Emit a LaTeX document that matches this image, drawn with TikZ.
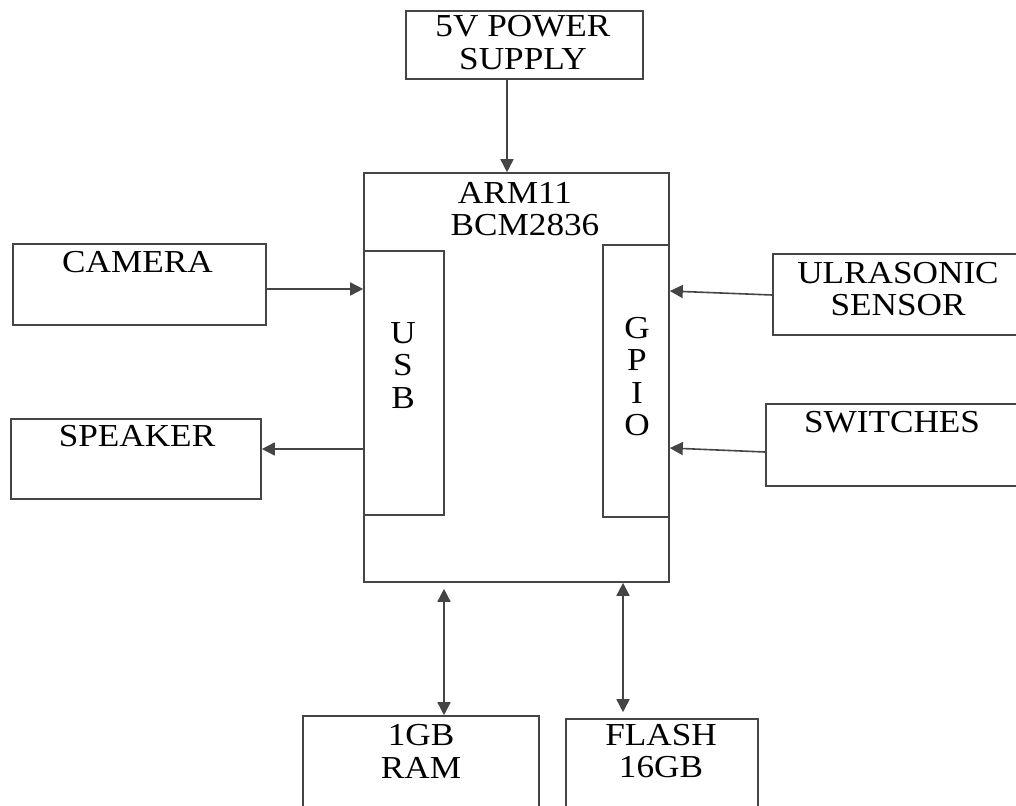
\documentclass[tikz,border=0pt]{standalone}
\usepackage{fontspec}
\setmainfont{Liberation Serif}[FakeStretch=1.1]
\usetikzlibrary{arrows.meta}
\definecolor{ln}{HTML}{454545}
\begin{document}
\begin{tikzpicture}[x=1pt,y=-1pt,
  box/.style={draw=ln,line width=1.6pt,inner sep=0pt,rectangle},
  txt/.style={inner sep=0pt,align=center,font=\fontsize{32}{32.5}\selectfont,text=black},
  arr/.style={draw=ln,line width=1.6pt,-{Triangle[length=13pt,width=13pt]}},
  darr/.style={draw=ln,line width=1.6pt,{Triangle[length=13pt,width=13pt]}-{Triangle[length=13pt,width=13pt]}}]
\useasboundingbox (0,0) rectangle (1016,805);
% boxes
\node[box,minimum width=237pt,minimum height=68pt] (ps) at (524.5,45) {};
\node[box,minimum width=305pt,minimum height=409pt] (main) at (516.5,377.5) {};
\node[box,minimum width=80pt,minimum height=264pt] (usb) at (404,383) {};
\node[box,minimum width=66pt,minimum height=272pt] (gpio) at (636,381) {};
\node[box,minimum width=253pt,minimum height=81pt] (cam) at (139.5,284.5) {};
\node[box,minimum width=250pt,minimum height=80pt] (spk) at (136,459) {};
\node[box,minimum width=260pt,minimum height=81pt] (ultra) at (903,294.5) {};
\node[box,minimum width=264pt,minimum height=82pt] (sw) at (898,445) {};
\node[box,minimum width=236pt,minimum height=110pt] (ram) at (421,771) {};
\node[box,minimum width=192pt,minimum height=110pt] (flash) at (662,774) {};
% texts
\node[txt] (tps) at (523,42.5) {5V POWER\\SUPPLY};
\node[txt] (tarm) at (515,193) {ARM11};
\node[txt] (tbcm) at (525,225) {BCM2836};
\node[txt] (tusb) at (403,365.5) {U\\S\\B};
\node[txt] (tgpio) at (637,376.5) {G\\P\\I\\O};
\node[txt] (tcam) at (137.5,262) {CAMERA};
\node[txt] (tspk) at (137,436) {SPEAKER};
\node[txt] (tultra) at (898,289) {ULRASONIC\\SENSOR};
\node[txt] (tsw) at (892,422) {SWITCHES};
\node[txt] (tram) at (421,751.5) {1GB\\RAM};
\node[txt] (tflash) at (661,751) {FLASH\\16GB};
% connectors
\draw[arr] (ps.south -| 507,0) -- (main.north -| 507,0);
\draw[arr] (cam.east |- 0,289) -- (usb.west |- 0,289);
\draw[arr] (usb.west |- 0,449) -- (spk.east |- 0,449);
\draw[arr] (ultra.west |- 0,295) -- (gpio.east |- 0,291);
\draw[arr] (sw.west |- 0,452) -- (gpio.east |- 0,448);
\draw[darr,shorten <=6pt] (main.south -| 444,0) -- (ram.north -| 444,0);
\draw[darr,shorten >=6pt] (main.south -| 623,0) -- (flash.north -| 623,0);
\end{tikzpicture}
\end{document}
